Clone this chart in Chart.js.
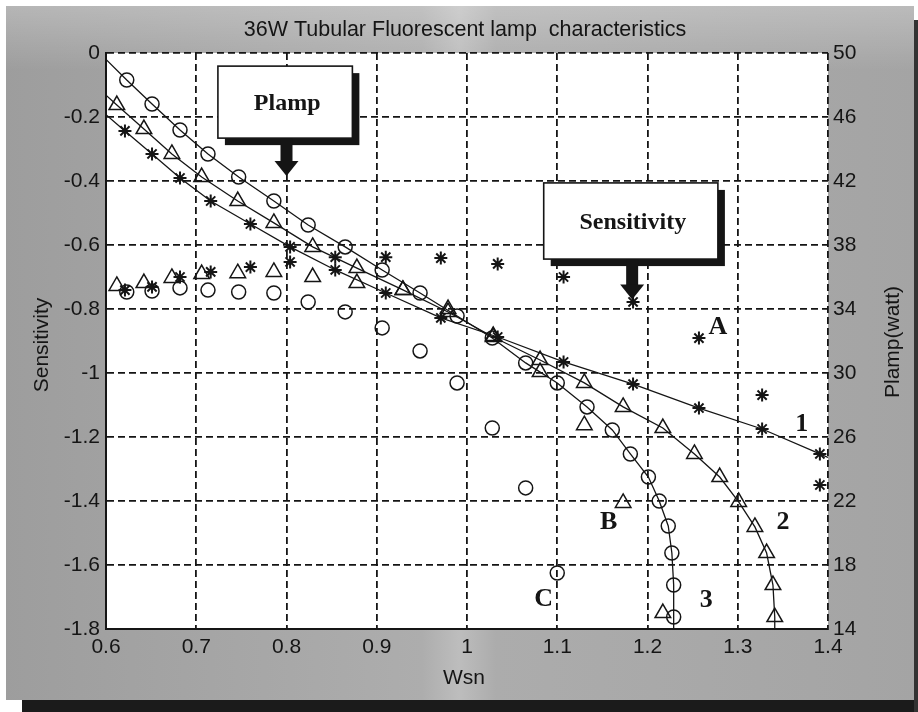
<!DOCTYPE html>
<html>
<head>
<meta charset="utf-8">
<title>36W Tubular Fluorescent lamp characteristics</title>
<script src="https://cdn.jsdelivr.net/npm/chart.js@4.4.1/dist/chart.umd.min.js"></script>
<style>
  html, body { margin: 0; padding: 0; background: #fff; }
  #wrap { width: 918px; height: 712px; }
</style>
</head>
<body>
<div id="wrap"><canvas id="chart" width="918" height="712"></canvas></div>
<script>
// curve 1 (Plamp) and set A (sensitivity), asterisks
var wsn1 = [0.621, 0.651, 0.682, 0.716, 0.760, 0.804, 0.854, 0.910, 0.971, 1.034, 1.107, 1.184, 1.257, 1.327, 1.391];
var plamp1 = [45.13, 43.69, 42.19, 40.75, 39.31, 37.88, 36.44, 35.0, 33.44, 32.25, 30.69, 29.31, 27.81, 26.5, 24.94];
var sensA = [-0.741, -0.731, -0.700, -0.684, -0.669, -0.653, -0.638, -0.638, -0.641, -0.659, -0.700, -0.778, -0.891, -1.069, -1.350];

// curve 2 and set B, triangles
var wsn2 = [0.612, 0.642, 0.673, 0.706, 0.746, 0.786, 0.829, 0.878, 0.929, 0.979, 1.029, 1.081, 1.130, 1.173, 1.217, 1.252, 1.280, 1.301, 1.319, 1.332, 1.339, 1.341];
var plamp2 = [46.75, 45.25, 43.69, 42.25, 40.75, 39.38, 37.88, 36.56, 35.19, 33.81, 32.25, 30.81, 29.38, 27.88, 26.56, 24.94, 23.5, 21.94, 20.38, 18.75, 16.75, 14.75];
var sensB = [-0.728, -0.719, -0.703, -0.691, -0.688, -0.684, -0.700, -0.719, -0.741, -0.800, -0.884, -0.997, -1.163, -1.406, -1.750];

// curve 3 and set C, circles
var wsn3 = [0.623, 0.651, 0.682, 0.713, 0.747, 0.786, 0.824, 0.865, 0.906, 0.948, 0.989, 1.028, 1.065, 1.100, 1.133, 1.161, 1.181, 1.201, 1.213, 1.223, 1.227, 1.229, 1.229];
var plamp3 = [48.31, 46.81, 45.19, 43.69, 42.25, 40.75, 39.25, 37.88, 36.44, 35.0, 33.56, 32.19, 30.63, 29.38, 27.88, 26.44, 24.94, 23.5, 22.0, 20.44, 18.75, 16.75, 14.75];
var sensC = [-0.747, -0.744, -0.734, -0.741, -0.747, -0.750, -0.778, -0.809, -0.859, -0.931, -1.031, -1.172, -1.359, -1.625];

// the fitted curves run on to the frame: [Wsn, Plamp] at each end
var ends1 = [[0.6, 46.14], [1.4, 24.72]];
var ends2 = [[0.6, 47.36], [1.341, 14]];
var ends3 = [[0.6, 49.6], [1.229, 14]];

var wsnTicks = [0.6, 0.7, 0.8, 0.9, 1.0, 1.1, 1.2, 1.3, 1.4];
var sensTicks = [0, -0.2, -0.4, -0.6, -0.8, -1.0, -1.2, -1.4, -1.6, -1.8];
var plampTicks = [50, 46, 42, 38, 34, 30, 26, 22, 18, 14];

var ink = "#151515";
var sans = "'Liberation Sans', Arial, sans-serif";
var serif = "'Liberation Serif', 'Times New Roman', serif";

// marker look per style: radius, stroke
var marks = {
    star: [6.5, 2],
    triangle: [9, 1.5],
    circle: [7, 1.5],
};

function pts(xs, ys) {
    var out = [];
    for (var i = 0; i < ys.length; i++) out.push({ x: xs[i], y: ys[i] });
    return out;
}

function curve(xs, ys, ends, style) {
    var data = [{ x: ends[0][0], y: ends[0][1] }].concat(pts(xs, ys));
    data.push({ x: ends[1][0], y: ends[1][1] });
    return {
        data: data,
        yAxisID: "y2",
        showLine: true,
        tension: 0,
        borderColor: ink,
        borderWidth: 1.3,
        pointStyle: style,
        pointBorderColor: ink,
        pointBackgroundColor: "rgba(0,0,0,0)",
        pointBorderWidth: marks[style][1],
        pointRadius: function (c) {
            return c.dataIndex === 0 || c.dataIndex === data.length - 1 ? 0 : marks[style][0];
        },
    };
}

function scatter(xs, ys, style) {
    return {
        data: pts(xs, ys),
        yAxisID: "y",
        showLine: false,
        pointStyle: style,
        pointBorderColor: ink,
        pointBackgroundColor: "rgba(0,0,0,0)",
        pointBorderWidth: marks[style][1],
        pointRadius: marks[style][0],
    };
}

function fixedTicks(list) {
    return function (axis) {
        axis.ticks = list.map(function (v) { return { value: v }; });
    };
}

function fmt(v) {
    return String(+v.toFixed(1));
}

// grey photo backdrop, white plot area
var backdrop = {
    id: "backdrop",
    beforeDraw: function (chart) {
        var ctx = chart.ctx, a = chart.chartArea;
        ctx.save();
        ctx.fillStyle = "#ffffff";
        ctx.fillRect(0, 0, 918, 712);
        var g = ctx.createLinearGradient(0, 0, 918, 0);
        g.addColorStop(0, "#9d9d9d");
        g.addColorStop(0.46, "#adadad");
        g.addColorStop(0.5, "#bdbdbd");
        g.addColorStop(0.54, "#acacac");
        g.addColorStop(1, "#a4a4a4");
        ctx.fillStyle = g;
        ctx.fillRect(6, 6, 908, 694);
        var v = ctx.createLinearGradient(0, 6, 0, 70);
        v.addColorStop(0, "rgba(255,255,255,0.25)");
        v.addColorStop(1, "rgba(255,255,255,0)");
        ctx.fillStyle = v;
        ctx.fillRect(6, 6, 908, 64);
        ctx.fillStyle = "#1b1b1b";
        ctx.fillRect(22, 700, 896, 12);
        ctx.fillStyle = "#333333";
        ctx.fillRect(914, 20, 4, 692);
        ctx.fillStyle = "#ffffff";
        ctx.fillRect(a.left, a.top, a.right - a.left, a.bottom - a.top);
        ctx.restore();
    },
};

// titles, call-out boxes and curve letters
var notes = {
    id: "notes",
    afterDraw: function (chart) {
        var ctx = chart.ctx;
        var sx = chart.scales.x, sy = chart.scales.y;
        var X = function (v) { return sx.getPixelForValue(v); };
        var Y = function (v) { return sy.getPixelForValue(v); };
        ctx.save();
        ctx.fillStyle = ink;
        ctx.textAlign = "center";
        ctx.textBaseline = "middle";

        ctx.font = "21.5px " + sans;
        ctx.fillText("36W Tubular Fluorescent lamp  characteristics", 465, 30);
        ctx.font = "21px " + sans;
        ctx.fillText("Wsn", 464, 678);

        ctx.save();
        ctx.translate(42, 345);
        ctx.rotate(-Math.PI / 2);
        ctx.fillText("Sensitivity", 0, 0);
        ctx.restore();
        ctx.save();
        ctx.translate(893, 342);
        ctx.rotate(-Math.PI / 2);
        ctx.fillText("Plamp(watt)", 0, 0);
        ctx.restore();

        function callout(x0, x1, y0, y1, text, ax, tip) {
            var l = X(x0), r = X(x1), t = Y(y0), b = Y(y1);
            ctx.fillStyle = ink;
            ctx.fillRect(l + 7, t + 7, r - l, b - t);
            ctx.fillStyle = "#ffffff";
            ctx.fillRect(l, t, r - l, b - t);
            ctx.strokeStyle = ink;
            ctx.lineWidth = 1.6;
            ctx.strokeRect(l, t, r - l, b - t);
            var px = X(ax), py = Y(tip);
            ctx.fillStyle = ink;
            ctx.fillRect(px - 6, b, 12, py - 14 - b);
            ctx.beginPath();
            ctx.moveTo(px - 12, py - 15);
            ctx.lineTo(px + 12, py - 15);
            ctx.lineTo(px, py);
            ctx.closePath();
            ctx.fill();
            ctx.font = "bold 24px " + serif;
            ctx.fillText(text, (l + r) / 2 + 2, (t + b) / 2 + 2);
        }
        callout(0.724, 0.873, -0.041, -0.266, "Plamp", 0.8, -0.384);
        callout(1.085, 1.278, -0.406, -0.644, "Sensitivity", 1.183, -0.77);

        ctx.font = "bold 26px " + serif;
        ctx.fillStyle = ink;
        [["A", 1.278, -0.856], ["1", 1.371, -1.159], ["2", 1.350, -1.466],
         ["B", 1.157, -1.466], ["3", 1.265, -1.709], ["C", 1.085, -1.706]].forEach(function (m) {
            ctx.fillText(m[0], X(m[1]), Y(m[2]));
        });
        ctx.restore();
    },
};

var gridStyle = { color: ink, lineWidth: 1.8, drawTicks: false };
var tickFont = { family: sans, size: 21 };

var chart = new Chart(document.getElementById("chart"), {
    type: "scatter",
    data: {
        datasets: [
            curve(wsn1, plamp1, ends1, "star"),
            curve(wsn2, plamp2, ends2, "triangle"),
            curve(wsn3, plamp3, ends3, "circle"),
            scatter(wsn1, sensA, "star"),
            scatter(wsn2, sensB, "triangle"),
            scatter(wsn3, sensC, "circle"),
        ],
    },
    options: {
        responsive: false,
        devicePixelRatio: 1,
        animation: false,
        events: [],
        layout: { padding: { top: 53, left: 0, right: 0, bottom: 0 } },
        plugins: {
            legend: { display: false },
            tooltip: { enabled: false },
        },
        scales: {
            x: {
                type: "linear",
                position: "bottom",
                min: 0.6,
                max: 1.4,
                afterBuildTicks: fixedTicks(wsnTicks),
                afterFit: function (axis) { axis.height = 83; },
                grid: gridStyle,
                border: { display: true, color: ink, width: 2, dash: [7, 4] },
                ticks: { color: ink, font: tickFont, padding: 6, maxRotation: 0, callback: fmt },
            },
            y: {
                type: "linear",
                position: "left",
                min: -1.8,
                max: 0,
                afterBuildTicks: fixedTicks(sensTicks),
                afterFit: function (axis) { axis.width = 106; },
                grid: gridStyle,
                border: { display: true, color: ink, width: 2, dash: [7, 4] },
                ticks: { color: ink, font: tickFont, padding: 6, callback: fmt },
            },
            y2: {
                type: "linear",
                position: "right",
                min: 14,
                max: 50,
                afterBuildTicks: fixedTicks(plampTicks),
                afterFit: function (axis) { axis.width = 90; },
                grid: { drawOnChartArea: false, drawTicks: false },
                border: { display: false },
                ticks: { color: ink, font: tickFont, padding: 5 },
            },
        },
    },
    plugins: [backdrop, notes],
});
</script>
</body>
</html>
